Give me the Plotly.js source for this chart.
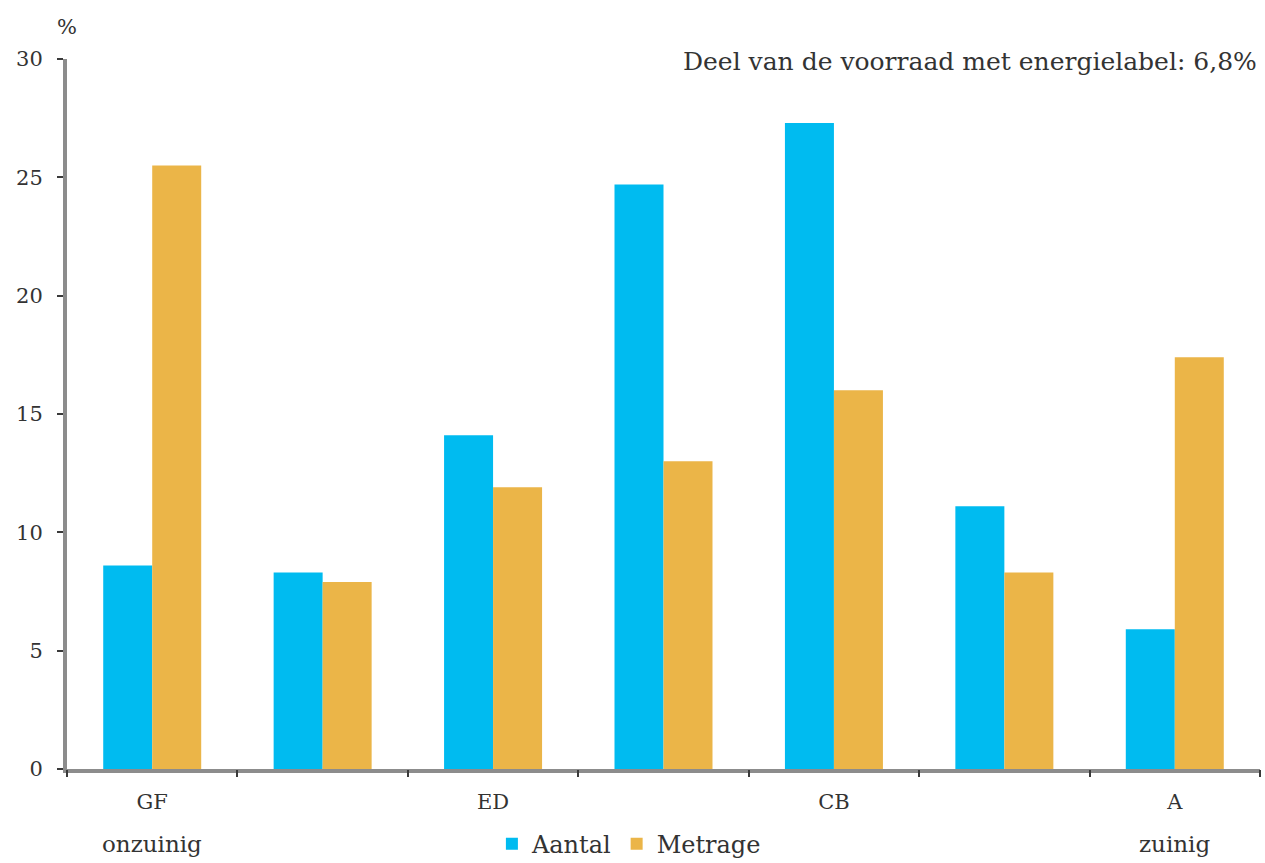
<!DOCTYPE html>
<html>
<head>
<meta charset="utf-8">
<script src="https://cdn.plot.ly/plotly-3.0.1.min.js"></script>
<style>
  html, body { margin: 0; padding: 0; background: #fff; }
  #chart { width: 1265px; height: 863px; }
</style>
</head>
<body>
<div id="chart"></div>
<script>
// Energy label classes (positions 0..6), labelled on every other slot
const positions = [0, 1, 2, 3, 4, 5, 6];
const labelPositions = [0, 2, 4, 6];
const labelText = ["GF", "ED", "CB", "A"];
const extremePositions = [0, 6];
const extremeText = ["onzuinig", "zuinig"];

// Share per label class, in %
const aantal  = [8.6, 8.3, 14.1, 24.7, 27.3, 11.1, 5.9];
const metrage = [25.5, 7.9, 11.9, 13.0, 16.0, 8.3, 17.4];

const note = "Deel van de voorraad met energielabel: 6,8%";

const FONT = "DejaVu Serif";
const TXT = "#333333";
const AXIS = "rgba(70,70,70,0.62)";

const boundaries = positions.concat([positions.length]).map(p => p - 0.5);

const traces = [
  { type: "bar", name: "Aantal", x: positions, y: aantal,
    marker: { color: "#00BBF0", line: { width: 0 } } },
  { type: "bar", name: "Metrage", x: positions, y: metrage,
    marker: { color: "#EBB548", line: { width: 0 } } },
  // carries the boundary tick marks on the overlaid axis
  { type: "scatter", x: [positions[0]], y: [0], xaxis: "x2", mode: "markers",
    marker: { opacity: 0 }, showlegend: false, hoverinfo: "skip" }
];

const annotations = [
  { text: "%", xref: "paper", yref: "paper", x: 0, y: 1.045,
    xanchor: "center", yanchor: "middle", showarrow: false,
    font: { family: FONT, size: 21, color: TXT } },
  { text: note, xref: "paper", yref: "paper", x: 0.999, y: 0.996,
    xanchor: "right", yanchor: "middle", showarrow: false,
    font: { family: FONT, size: 25, color: TXT } }
];
extremePositions.forEach((p, i) => {
  annotations.push({ text: extremeText[i], xref: "x", yref: "paper",
    x: p, y: -0.105, xanchor: "center", yanchor: "middle", showarrow: false,
    font: { family: FONT, size: 23, color: TXT } });
});

const layout = {
  width: 1265, height: 863,
  margin: { l: 67, r: 5, t: 59, b: 94, autoexpand: false },
  paper_bgcolor: "#ffffff", plot_bgcolor: "#ffffff",
  barmode: "group", bargap: 0.425, bargroupgap: 0,
  font: { family: FONT, size: 21, color: TXT },
  showlegend: true,
  legend: { orientation: "h", x: 0.471, xanchor: "center", y: -0.106,
    yanchor: "middle", font: { family: FONT, size: 24, color: TXT },
    itemwidth: 30, tracegroupgap: 0 },
  xaxis: {
    range: [-0.5, 6.5], tickmode: "array", tickvals: labelPositions,
    ticktext: labelText, ticks: "", showgrid: false, zeroline: false,
    showline: true, linecolor: AXIS, linewidth: 4,
    ticklabelstandoff: 11, tickfont: { family: FONT, size: 21, color: TXT },
    fixedrange: true
  },
  xaxis2: {
    overlaying: "x", matches: "x", anchor: "y", side: "bottom",
    range: [-0.5, 6.5], tickmode: "array", tickvals: boundaries,
    ticks: "outside", ticklen: 7, tickwidth: 2, tickcolor: "#3a3a3a",
    showticklabels: false, showgrid: false, zeroline: false, showline: false
  },
  yaxis: {
    range: [0, 30], tickmode: "linear", tick0: 0, dtick: 5,
    ticks: "outside", ticklen: 6, tickwidth: 2, tickcolor: "#3a3a3a",
    showgrid: false, zeroline: false, showline: true,
    linecolor: AXIS, linewidth: 4, ticklabelstandoff: 10,
    tickfont: { family: FONT, size: 21, color: TXT }, fixedrange: true
  },
  annotations: annotations
};

Plotly.newPlot("chart", traces, layout, { staticPlot: true, displayModeBar: false });
</script>
</body>
</html>
